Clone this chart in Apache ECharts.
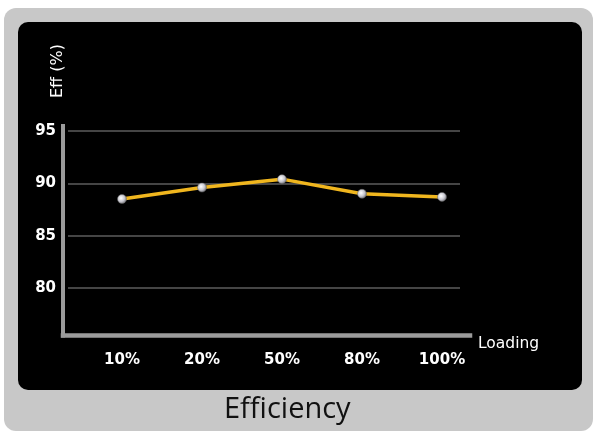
<!DOCTYPE html>
<html>
<head>
<meta charset="utf-8">
<script src="https://cdn.jsdelivr.net/npm/echarts@6/dist/echarts.min.js"></script>
<style>
  html, body { margin: 0; padding: 0; background: #fff; }
  #chart { width: 600px; height: 438px; }
</style>
</head>
<body>
<div id="chart"></div>
<script>
// data
var loadLevels = ['10%', '20%', '50%', '80%', '100%'];
var effValues = [88.5, 89.6, 90.4, 89.0, 88.7];
var effTicks = [80, 85, 90, 95];

var chartView = echarts.init(document.getElementById('chart'), null, {renderer: 'canvas'});

var axisGray = '#9b9b9b';
var labelFont = 'DejaVu Sans';

var option = {
    animation: false,
    backgroundColor: '#fff',
    graphic: [
        // gray card + black panel behind the plot
        {type: 'rect', z: -10, shape: {x: 4, y: 8, width: 589, height: 423, r: 12}, style: {fill: '#c8c8c8'}},
        {type: 'rect', z: -9, shape: {x: 18, y: 22, width: 564, height: 368, r: 10}, style: {fill: '#000'}}
    ],
    title: {
        text: 'Efficiency',
        left: 224,
        top: 395,
        padding: 0,
        textStyle: {fontFamily: 'Open Sans', fontSize: 29, fontWeight: 'normal', color: '#111'}
    },
    grid: [
        {left: 63, right: 130, top: 126, bottom: 102.5},   // axis frame
        {left: 68, right: 140, top: 131, bottom: 150},     // horizontal grid lines
        {left: 122, right: 158, top: 131, bottom: 150}     // the line itself
    ],
    xAxis: [
        {
            gridIndex: 0, type: 'value', min: 0, max: 1,
            axisLine: {show: true, lineStyle: {color: axisGray, width: 4.5, cap: 'square'}},
            axisTick: {show: false}, axisLabel: {show: false}, splitLine: {show: false},
            name: 'Loading', nameLocation: 'end', nameGap: 8,
            nameTextStyle: {color: '#fff', fontSize: 15.5, fontFamily: labelFont, verticalAlign: 'top'}
        },
        {gridIndex: 1, type: 'value', min: 0, max: 1, show: false},
        {
            gridIndex: 2, type: 'category', data: loadLevels, boundaryGap: false,
            axisLine: {show: false}, axisTick: {show: false},
            axisLabel: {color: '#fff', fontSize: 15, fontWeight: 'bold', fontFamily: labelFont, margin: 65}
        }
    ],
    yAxis: [
        {
            gridIndex: 0, type: 'value', min: 0, max: 1,
            axisLine: {show: true, lineStyle: {color: axisGray, width: 4, cap: 'square'}},
            axisTick: {show: false}, axisLabel: {show: false}, splitLine: {show: false},
            name: 'Eff (%)', nameLocation: 'end', nameRotate: 90, nameGap: 28,
            nameTextStyle: {color: '#fff', fontSize: 16, fontFamily: labelFont, verticalAlign: 'bottom', lineHeight: 11}
        },
        {
            gridIndex: 1, type: 'value', min: effTicks[0], max: effTicks[effTicks.length - 1], interval: 5,
            axisLine: {show: false}, axisTick: {show: false},
            axisLabel: {color: '#fff', fontSize: 15, fontWeight: 'bold', fontFamily: labelFont, margin: 12},
            splitLine: {show: true, lineStyle: {color: '#5c5c5c', width: 1.5}}
        },
        {gridIndex: 2, type: 'value', min: effTicks[0], max: effTicks[effTicks.length - 1], show: false}
    ],
    series: [{
        type: 'line',
        xAxisIndex: 2,
        yAxisIndex: 2,
        data: effValues,
        lineStyle: {color: '#f0b61e', width: 3.5},
        symbol: 'circle',
        symbolSize: 9,
        itemStyle: {
            color: {
                type: 'radial', x: 0.4, y: 0.4, r: 0.6,
                colorStops: [{offset: 0, color: '#ffffff'}, {offset: 0.6, color: '#c8c8d0'}, {offset: 1, color: '#7a7a80'}]
            },
            borderColor: '#666', borderWidth: 0.5
        },
        z: 5
    }]
};

chartView.setOption(option);
</script>
</body>
</html>
